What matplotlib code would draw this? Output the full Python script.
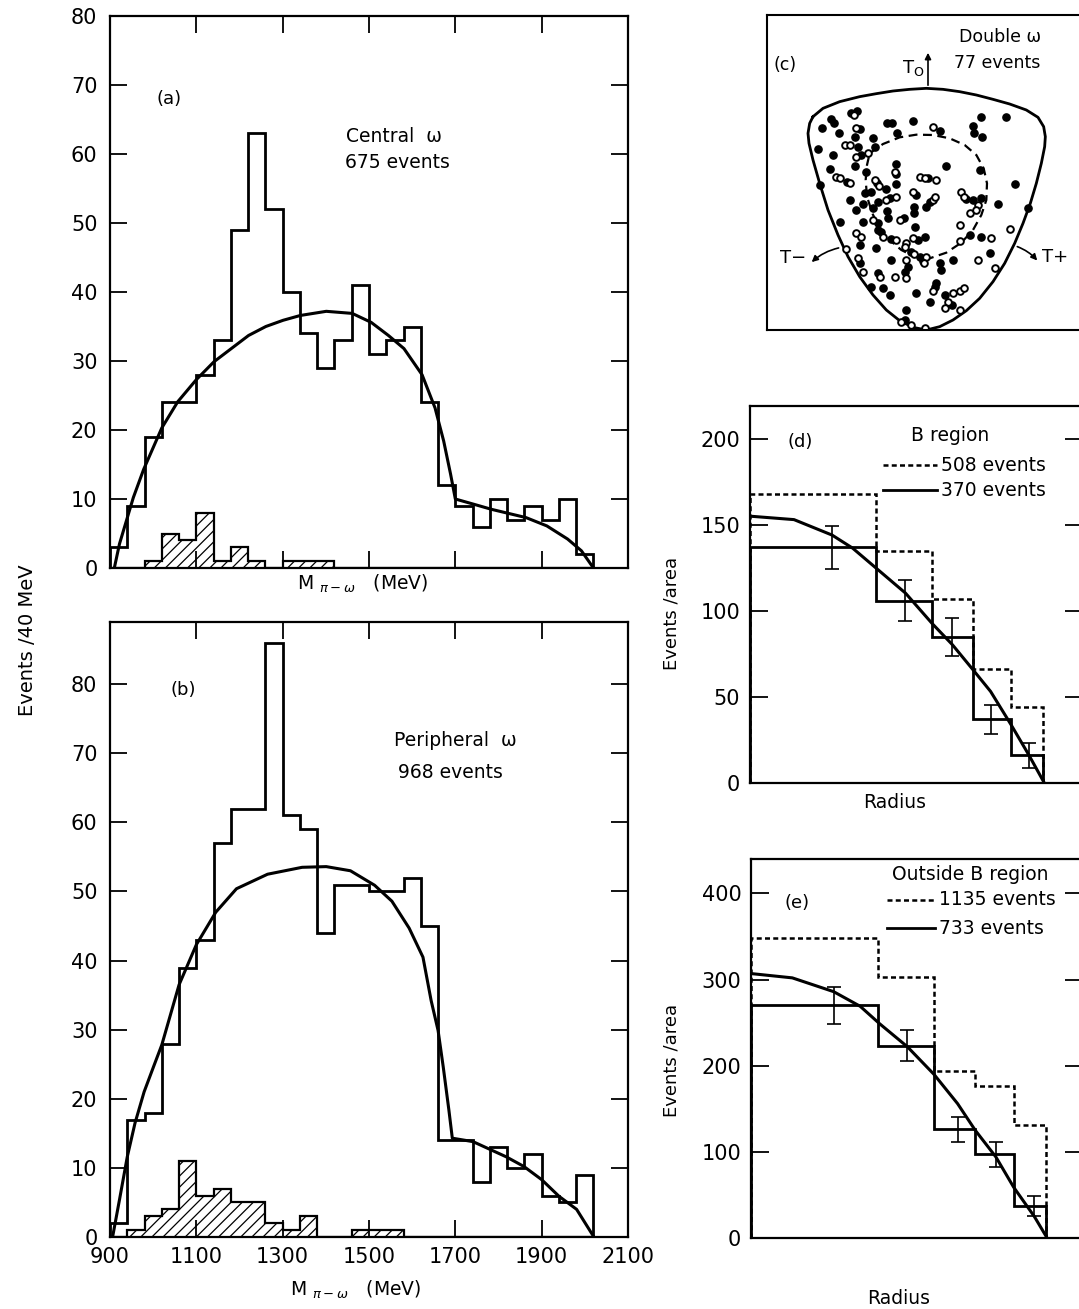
import matplotlib
matplotlib.use("Agg")
import matplotlib.pyplot as plt

W, H = 1079, 1309
plt.rcParams.update({"font.family": "DejaVu Sans", "hatch.color": "black",
                     "hatch.linewidth": 0.9})

# ---------------- data ----------------
# pi-omega mass spectra, 40 MeV bins from 900 to 2020 MeV
mass_edges = [900, 940, 980, 1020, 1060, 1100, 1140, 1180, 1220, 1260,
              1300, 1340, 1380, 1420, 1460, 1500, 1540, 1580, 1620, 1660,
              1700, 1740, 1780, 1820, 1860, 1900, 1940, 1980, 2020]
central_counts = [3, 9, 19, 24, 24, 28, 33, 49, 63, 52, 40, 34, 29, 33,
                  41, 31, 33, 35, 24, 12, 9, 6, 10, 7, 9, 7, 10, 2]
central_bg = [0, 0, 1, 5, 4, 8, 1, 3, 1, 0, 1, 1, 1, 0,
              0, 0, 0, 0, 0, 0, 0, 0, 0, 0, 0, 0, 0, 0]
peripheral_counts = [2, 17, 18, 28, 39, 43, 57, 62, 62, 86, 61, 59, 44, 51,
                     51, 50, 50, 52, 45, 14, 14, 8, 13, 10, 12, 6, 5, 9]
peripheral_bg = [0, 1, 3, 4, 11, 6, 7, 5, 5, 2, 1, 3, 0, 0,
                 1, 1, 1, 0, 0, 0, 0, 0, 0, 0, 0, 0, 0, 0]

central_fit_x = [910, 922, 954, 978, 1020, 1057, 1100, 1141, 1181, 1221, 1261,
                 1301, 1341, 1401, 1461, 1505, 1545, 1581, 1623, 1653, 1673,
                 1689, 1700, 1745, 1784, 1864, 1912, 1960, 1992, 2020]
central_fit_y = [0, 3.5, 10.2, 14.3, 20.3, 24.1, 27.3, 29.9, 31.8, 33.7, 35,
                 35.9, 36.6, 37.2, 36.9, 35.6, 33.7, 31.8, 28, 23.2, 18.4,
                 13.6, 10, 9.2, 8.5, 7.3, 6.1, 4.2, 2.5, 0]
peripheral_fit_x = [906, 922, 940, 958, 979, 1000, 1020, 1060, 1100, 1145, 1193,
                    1265, 1345, 1401, 1457, 1513, 1553, 1593, 1625, 1644, 1660,
                    1672, 1685, 1693, 1741, 1818, 1859, 1900, 1940, 1981, 2021]
peripheral_fit_y = [0, 5.4, 11.6, 16.5, 21, 24.5, 27.8, 36.5, 42.3, 47, 50.4,
                    52.5, 53.5, 53.6, 53, 50.9, 48.6, 44.7, 40.5, 34.2, 29.9,
                    24.6, 18.4, 14.3, 13.8, 11.6, 10.2, 8.3, 5.9, 4, 0]

# Dalitz plot (c), coordinates in plot units (y grows downward)
boundary_x = [160, 190, 240, 300, 350, 400, 450, 500, 550, 600, 650, 700, 750,
              800, 835, 852, 857, 855, 845, 830, 812, 790, 765, 735, 700, 660,
              620, 580, 540, 500, 460, 420, 380, 340, 300, 265, 235, 205, 180,
              160, 148, 145, 150, 160]
boundary_y = [350, 325, 305, 290, 281, 273, 268, 265, 268, 275, 285, 298, 312,
              330, 352, 380, 410, 440, 490, 550, 610, 670, 730, 790, 845, 895,
              932, 960, 980, 990, 982, 962, 930, 885, 830, 770, 705, 630, 550,
              480, 430, 400, 370, 350]
bregion_x = [330, 370, 420, 470, 520, 570, 615, 650, 672, 682, 680, 665, 640,
             605, 560, 510, 465, 425, 390, 360, 338, 322, 318, 322, 330]
bregion_y = [460, 432, 412, 404, 405, 415, 435, 465, 505, 550, 600, 645, 690,
             728, 758, 775, 770, 750, 720, 685, 640, 590, 540, 495, 460]
filled_x = [275, 292, 213, 222, 188, 237, 300, 383, 397, 460, 540, 665, 740,
            640, 642, 667, 412, 285, 340, 347, 175, 295, 220, 305, 285, 210,
            320, 410, 410, 180, 262, 352, 380, 410, 505, 560, 660, 765, 270,
            315, 335, 310, 355, 390, 470, 510, 620, 640, 665, 715, 290, 340,
            382, 462, 462, 500, 355, 385, 432, 465, 240, 310, 300, 355, 365,
            395, 475, 495, 630, 665, 350, 455, 480, 490, 300, 395, 445, 540,
            580, 690, 355, 435, 530, 525, 545, 578, 335, 370, 390, 470, 555,
            510, 440, 435, 805]
filled_y = [338, 332, 357, 370, 383, 400, 387, 370, 368, 362, 393, 352, 352,
            378, 398, 410, 400, 410, 415, 440, 448, 440, 465, 465, 498, 508,
            515, 492, 522, 555, 545, 548, 567, 552, 535, 498, 510, 553, 600,
            580, 575, 612, 607, 595, 585, 605, 598, 600, 595, 613, 630, 625,
            632, 640, 622, 620, 670, 655, 655, 680, 665, 665, 735, 690, 697,
            718, 720, 712, 705, 710, 745, 755, 770, 782, 790, 780, 800, 790,
            780, 760, 820, 815, 850, 862, 810, 915, 860, 865, 885, 880, 885,
            905, 930, 960, 625]
open_x = [284, 290, 520, 255, 270, 290, 325, 405, 230, 240, 270, 345, 358,
          480, 495, 530, 380, 410, 460, 520, 525, 605, 612, 655, 340, 420,
          600, 630, 650, 750, 290, 305, 370, 410, 440, 460, 600, 695, 435,
          462, 500, 492, 258, 295, 440, 655, 362, 405, 440, 520, 580, 600,
          612, 565, 555, 600, 425, 455, 495, 705, 310]
open_y = [345, 385, 382, 436, 436, 470, 460, 515, 530, 535, 550, 540, 557,
          530, 535, 540, 600, 590, 575, 600, 590, 575, 590, 615, 660, 660,
          675, 640, 630, 688, 700, 710, 710, 720, 730, 715, 722, 715, 740,
          762, 770, 790, 747, 775, 780, 780, 832, 830, 835, 872, 880, 872,
          865, 905, 925, 930, 965, 975, 985, 805, 815]

# radial distributions (d) and (e)
radius_edges = [0, 0.43, 0.62, 0.76, 0.89, 1.0]
b_all = [168, 135, 107, 66, 44]          # B region, 508 events
b_sel = [137, 106, 85, 37, 16]           # B region, 370 events
b_err_r = [0.28, 0.53, 0.69, 0.82, 0.95]
b_err = [12.5, 12, 11, 8.5, 7]
b_fit_r = [0, 0.15, 0.28, 0.35, 0.43, 0.53, 0.62, 0.69, 0.76, 0.82, 0.89, 0.95, 1.0]
b_fit_y = [155, 153, 144, 136.4, 124.8, 110.3, 92.8, 80.3, 65.8, 53.2, 33.8, 16.4, 1]
o_all = [348, 303, 194, 177, 131]        # outside B region, 1135 events
o_sel = [270, 223, 126, 97, 37]          # outside B region, 733 events
o_err_r = [0.28, 0.53, 0.70, 0.83, 0.96]
o_err = [21, 18, 14, 14.5, 12]
o_fit_r = [0, 0.14, 0.28, 0.37, 0.435, 0.53, 0.62, 0.70, 0.76, 0.83, 0.89, 0.96, 1.0]
o_fit_y = [307, 302, 286, 269, 249, 222, 190, 156, 125, 94, 59, 25, 2]


def rect(x0, y0, x1, y1):
    return [x0 / W, 1 - y1 / H, (x1 - x0) / W, (y1 - y0) / H]


def style(ax, lw=1.6):
    for s in ax.spines.values():
        s.set_linewidth(lw)
    ax.tick_params(direction="in", length=12, width=1.3, top=True, right=True,
                   labelsize=15, pad=9)


fig = plt.figure(figsize=(W / 100, H / 100), dpi=100)
fig.patch.set_facecolor("white")

mlabel = r"M $_{\pi-\omega}$   (MeV)"
mass_ticks = [900, 1100, 1300, 1500, 1700, 1900, 2100]

# ---- (a) central omega
ax = fig.add_axes(rect(110, 16, 628, 568))
ax.stairs(central_bg, mass_edges, baseline=0, fill=True, facecolor="white",
          edgecolor="black", hatch="///", lw=1.6)
ax.stairs(central_counts, mass_edges, baseline=0, color="black", lw=2.0)
ax.plot(central_fit_x, central_fit_y, color="black", lw=2.2)
ax.set_xlim(900, 2100)
ax.set_ylim(0, 80)
ax.set_xticks(mass_ticks)
ax.set_yticks(range(0, 81, 10))
style(ax)
ax.tick_params(labelbottom=False)
ax.text(1037, 68, "(a)", fontsize=13, ha="center", va="center")
ax.text(1557, 62.6, "Central  ω", fontsize=13.5, ha="center", va="center")
ax.text(1565, 58.8, "675 events", fontsize=13.5, ha="center", va="center")
ax.text(1485, -2.3, mlabel, fontsize=13.5, ha="center", va="center",
        clip_on=False)

# ---- (b) peripheral omega
ax = fig.add_axes(rect(110, 622, 628, 1237))
ax.stairs(peripheral_bg, mass_edges, baseline=0, fill=True, facecolor="white",
          edgecolor="black", hatch="///", lw=1.6)
ax.stairs(peripheral_counts, mass_edges, baseline=0, color="black", lw=2.0)
ax.plot(peripheral_fit_x, peripheral_fit_y, color="black", lw=2.2)
ax.set_xlim(900, 2100)
ax.set_ylim(0, 89)
ax.set_xticks(mass_ticks)
ax.set_yticks(range(0, 81, 10))
style(ax)
ax.tick_params(axis="x", pad=7)
ax.text(1069, 79.2, "(b)", fontsize=13, ha="center", va="center")
ax.text(1700, 71.9, "Peripheral  ω", fontsize=13.5, ha="center", va="center")
ax.text(1689, 67.2, "968 events", fontsize=13.5, ha="center", va="center")
ax.text(1470, -7.7, mlabel, fontsize=13.5, ha="center", va="center",
        clip_on=False)

fig.text(28 / W, 1 - 640 / H, "Events /40 MeV", rotation=90, fontsize=14,
         ha="center", va="center")

# ---- (c) Dalitz plot
ax = fig.add_axes(rect(767, 15, 1083, 330))
ax.plot(boundary_x, boundary_y, color="black", lw=2.0)
ax.plot(bregion_x, bregion_y, color="black", lw=1.6, ls=(0, (4, 2.5)))
ax.plot(filled_x, filled_y, "o", ls="none", ms=5.2, color="black")
ax.plot(open_x, open_y, "o", ls="none", ms=4.8, mfc="white", mec="black",
        mew=1.4)
ax.set_xlim(22, 970)
ax.set_ylim(990, 45)
ax.set_xticks([])
ax.set_yticks([])
for s in ax.spines.values():
    s.set_linewidth(1.5)
ax.text(75, 195, "(c)", fontsize=12.5, ha="center", va="center")
ax.text(720, 112, "Double ω", fontsize=12.5, ha="center", va="center")
ax.text(712, 188, "77 events", fontsize=12.5, ha="center", va="center")
ax.text(460, 205, r"T$_{\rm O}$", fontsize=13, ha="center", va="center")
ax.annotate("", xy=(505, 150), xytext=(505, 264),
            arrowprops=dict(arrowstyle="-|>", lw=1.2, color="black",
                            mutation_scale=9))
ax.text(100, 775, "T−", fontsize=13, ha="center", va="center")
ax.annotate("", xy=(150, 792), xytext=(245, 742),
            arrowprops=dict(arrowstyle="-|>", lw=1.2, color="black",
                            mutation_scale=9,
                            connectionstyle="arc3,rad=0.15"))
ax.text(885, 770, "T+", fontsize=13, ha="center", va="center")
ax.annotate("", xy=(838, 788), xytext=(765, 737),
            arrowprops=dict(arrowstyle="-|>", lw=1.2, color="black",
                            mutation_scale=9,
                            connectionstyle="arc3,rad=-0.15"))

dash = (0, (2, 1.3))


def radial(ax, r_all, r_sel, err_r, err, fit_r, fit_y, ymax, xmax, ticks):
    ax.stairs(r_all, radius_edges, baseline=0, color="black", lw=1.8, ls=dash)
    ax.stairs(r_sel, radius_edges, baseline=0, color="black", lw=2.0)
    ax.errorbar(err_r, r_sel, yerr=err, fmt="none", ecolor="black",
                elinewidth=1.2, capsize=5, capthick=1.2)
    ax.plot(fit_r, fit_y, color="black", lw=2.2)
    ax.set_xlim(0, xmax)
    ax.set_ylim(0, ymax)
    ax.set_xticks([])
    ax.set_yticks(ticks)
    for s in ax.spines.values():
        s.set_linewidth(1.6)
    ax.tick_params(direction="in", length=13, width=1.3, right=True,
                   labelsize=15, pad=7)


# ---- (d) B region
ax = fig.add_axes(rect(750, 406, 1083, 783))
radial(ax, b_all, b_sel, b_err_r, b_err, b_fit_r, b_fit_y, 219, 1.135,
       [0, 50, 100, 150, 200])
ax.text(0.17, 198, "(d)", fontsize=13, ha="center", va="center")
ax.text(0.682, 202, "B region", fontsize=13.5, ha="center", va="center")
ax.plot([0.455, 0.636], [184.7, 184.7], color="black", lw=1.8, ls=dash)
ax.text(0.652, 184.7, "508 events", fontsize=13.5, ha="left", va="center")
ax.plot([0.455, 0.636], [170.2, 170.2], color="black", lw=2.0)
ax.text(0.652, 170.2, "370 events", fontsize=13.5, ha="left", va="center")
ax.annotate("Radius", xy=(0.494, 0), xycoords=("data", "axes fraction"),
            xytext=(0, -20), textcoords="offset pixels", fontsize=13.5,
            ha="center", va="center")
fig.text(672 / W, 1 - 613 / H, "Events /area", rotation=90, fontsize=13,
         ha="center", va="center")

# ---- (e) outside B region
ax = fig.add_axes(rect(751, 859, 1083, 1238))
radial(ax, o_all, o_sel, o_err_r, o_err, o_fit_r, o_fit_y, 440, 1.125,
       [0, 100, 200, 300, 400])
ax.text(0.156, 388.8, "(e)", fontsize=13, ha="center", va="center")
ax.text(0.743, 421.7, "Outside B region", fontsize=13.5, ha="center",
        va="center")
ax.plot([0.46, 0.624], [392.6, 392.6], color="black", lw=1.8, ls=dash)
ax.text(0.638, 392.6, "1135 events", fontsize=13.5, ha="left", va="center")
ax.plot([0.46, 0.624], [359.7, 359.7], color="black", lw=2.0)
ax.text(0.638, 359.7, "733 events", fontsize=13.5, ha="left", va="center")
ax.annotate("Radius", xy=(0.5, 0), xycoords=("data", "axes fraction"),
            xytext=(0, -60), textcoords="offset pixels", fontsize=13.5,
            ha="center", va="center")
fig.text(672 / W, 1 - 1060 / H, "Events /area", rotation=90, fontsize=13,
         ha="center", va="center")

fig.savefig("out.png", dpi=100, facecolor="white")
